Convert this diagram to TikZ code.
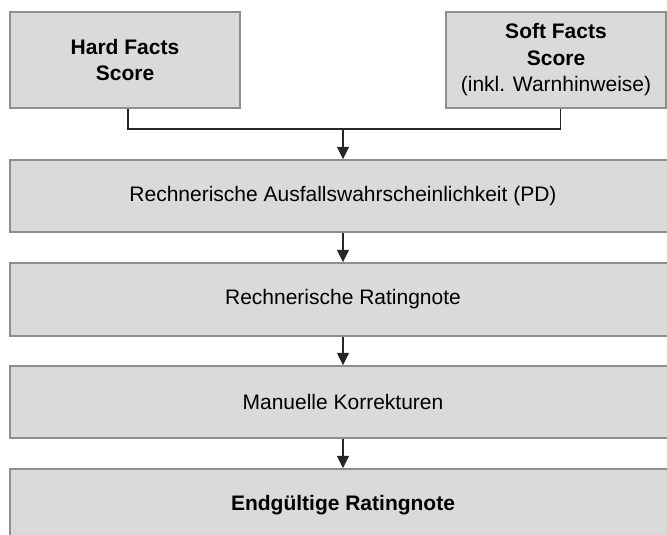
\documentclass[tikz,border=0pt]{standalone}
\usepackage{fontspec}
\setmainfont{Liberation Sans}
\usetikzlibrary{arrows.meta}
\definecolor{boxfill}{HTML}{DADADA}
\definecolor{boxline}{HTML}{8E8E8E}
\begin{document}
\begin{tikzpicture}[x=1pt,y=-1pt,
  box/.style={draw=boxline, fill=boxfill, line width=1.5pt, minimum height=72pt,
    inner sep=0pt, align=center, font=\fontsize{21}{26.5}\selectfont},
  wide/.style={box, minimum width=666pt},
  link/.style={draw=black!85, line width=1.2pt},
  arr/.style={link, -{Triangle[length=12.5pt,width=12pt]}}]
\useasboundingbox (0,0) rectangle (667,535);
\clip (0,0) rectangle (667,535);
% score inputs
\node[box, minimum width=230pt, minimum height=96pt] (hard) at (125,60)
  {\textbf{Hard Facts}\\\textbf{Score}};
\node[box, minimum width=220pt, minimum height=96pt] (soft) at (556,60)
  {\textbf{Soft Facts}\\\textbf{Score}\\(inkl. Warnhinweise)};
% processing chain
\node[wide] (pd) at (343,196) {Rechnerische Ausfallswahrscheinlichkeit (PD)};
\node[wide, minimum height=73pt] (rn) at (343,299.5) {Rechnerische Ratingnote};
\node[wide] (mk) at (343,402) {Manuelle Korrekturen};
\node[wide] (end) at (343,505) {\textbf{Endgültige Ratingnote}};
% merging connector
\coordinate (join) at (343,129);
\draw[link] ([xshift=3pt]hard.south) |- (join) -| ([xshift=4.5pt]soft.south);
\draw[arr] (join) -- (pd.north);
\draw[arr] (pd) -- (rn);
\draw[arr] (rn) -- (mk);
\draw[arr] (mk) -- (end);
\end{tikzpicture}
\end{document}
